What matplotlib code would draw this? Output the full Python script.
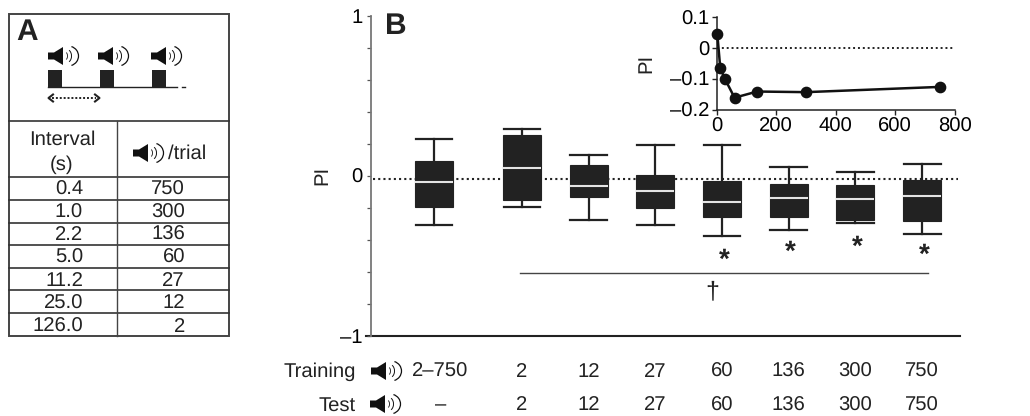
#!/usr/bin/env python3
import matplotlib
matplotlib.use("Agg")
import matplotlib.pyplot as plt
from matplotlib.patches import Arc, Polygon, Rectangle

plt.rcParams.update({"font.family": "Liberation Sans", "font.size": 14.6, "text.color": "#222222",
                     "text.hinting": "none"})

W, H = 1030, 416
DARK = "#222222"

# panel B boxes
train_labels = ["2–750", "2", "12", "27", "60", "136", "300", "750"]
test_labels = ["–", "2", "12", "27", "60", "136", "300", "750"]
whisker_hi = [0.226, 0.289, 0.128, 0.189, 0.192, 0.053, 0.020, 0.074]
box_hi = [0.090, 0.253, 0.066, 0.003, -0.034, -0.053, -0.059, -0.028]
medians = [-0.040, 0.045, -0.068, -0.099, -0.162, -0.143, -0.145, -0.127]
box_lo = [-0.195, -0.153, -0.135, -0.203, -0.259, -0.259, -0.278, -0.283]
whisker_lo = [-0.311, -0.199, -0.278, -0.308, -0.377, -0.341, -0.295, -0.366]
star_y = [-0.53, -0.48, -0.45, -0.50]

# inset
inset_tones = [2, 12, 27, 60, 136, 300, 750]
inset_pi = [0.046, -0.065, -0.099, -0.161, -0.141, -0.143, -0.126]

# panel A table
intervals = ["0.4", "1.0", "2.2", "5.0", "11.2", "25.0", "126.0"]
tones_per_trial = ["750", "300", "136", "60", "27", "12", "2"]


def px_axes(fig, x0, y0, x1, y1):
    return fig.add_axes([x0 / W, 1 - y1 / H, (x1 - x0) / W, (y1 - y0) / H])


def speaker(ax, x, y, s=1.0):
    # little loudspeaker glyph, x = left edge, y = centre
    pts = [(0, -3.5), (6, -3.5), (15, -9), (15, 9), (6, 3.5), (0, 3.5)]
    ax.add_patch(Polygon([(x + a * s, y + b * s) for a, b in pts], closed=True, fc="#111111", ec="none"))
    for off, w, h, lw in [(17, 5, 8, 0.6), (19, 9, 13, 0.7), (20, 21, 20, 0.9)]:
        ax.add_patch(Arc((x + off * s, y), w * s, h * s, theta1=-70, theta2=70, color="#111111", lw=lw))


fig = plt.figure(figsize=(W / 100, H / 100), dpi=100)

# overlay in pixel coordinates for the schematic, table and row labels
bg = fig.add_axes([0, 0, 1, 1])
bg.set_xlim(0, W); bg.set_ylim(H, 0); bg.axis("off")

bg.add_patch(Rectangle((9, 14), 220, 321.5, fc="none", ec="#444444", lw=1.4))
row_lines = [120.7, 177.3, 200, 222.7, 245, 267.7, 290.3, 313.3]
for y in row_lines:
    bg.plot([9, 229], [y, y], color="#333333", lw=1.2)
bg.plot([117, 117], [120.7, 335.5], color="#444444", lw=1.0)

bg.text(16, 32.5, "A", fontsize=21.5, fontweight="bold", va="center", ha="left")
for x in (48, 98, 151):
    speaker(bg, x, 56)
for x in (48, 100, 152):
    bg.add_patch(Rectangle((x, 70), 14, 17, fc=DARK, ec="none"))
bg.plot([48, 177], [87, 87], color=DARK, lw=1.0)
bg.plot([182, 185], [87, 87], color=DARK, lw=1.0)
bg.plot([52, 96], [98, 98], color=DARK, lw=1.4, ls=(0, (1, 1.0)))
bg.plot([53, 48.5, 53], [94.5, 98, 101.5], color=DARK, lw=1.5)
bg.plot([95, 99.5, 95], [94.5, 98, 101.5], color=DARK, lw=1.5)

bg.text(62, 145, "Interval", ha="center", va="baseline")
bg.text(62, 170, "(s)", ha="center", va="baseline")
speaker(bg, 133, 153)
bg.text(168, 159, "/trial", ha="left", va="baseline")
row_y = [195, 217.3, 240, 262.7, 285.7, 308.3, 331.7]
for y, a, b in zip(row_y, intervals, tones_per_trial):
    bg.text(83, y, a, ha="right", va="baseline")
    bg.text(185, y, b, ha="right", va="baseline")

# main box plot, x unit = one tone-count column
ax = px_axes(fig, 371, 15.5, 960, 335.7)
ax.patch.set_alpha(0)
positions = [-0.32, 1, 2, 3, 4, 5, 6, 7]
stats = [dict(whislo=a, q1=b, med=c, q3=d, whishi=e, fliers=[])
         for a, b, c, d, e in zip(whisker_lo, box_lo, medians, box_hi, whisker_hi)]
ax.axhline(-0.02, xmin=0.004, xmax=0.997, color=DARK, lw=1.5, ls=(0, (1, 1.5)), zorder=1)
ax.bxp(stats, positions=positions, widths=0.57, patch_artist=True, showfliers=False,
       boxprops=dict(facecolor=DARK, edgecolor=DARK, lw=0.8),
       medianprops=dict(color="#e4e4e4", lw=1.5, solid_capstyle="butt"),
       whiskerprops=dict(color=DARK, lw=1.6),
       capprops=dict(color=DARK, lw=1.6), capwidths=0.55, zorder=3)
ax.set_xlim(-1.264, 7.567); ax.set_ylim(-1, 1)
ax.set_xticks([])
ax.set_yticks([-1, 0, 1]); ax.set_yticklabels(["–1", "0", "1"])
ax.set_yticks([-0.8, -0.6, -0.4, -0.2, 0.2, 0.4, 0.6, 0.8], minor=True)
ax.tick_params(axis="y", which="both", length=3.2, width=0.9, color="#555555", pad=3)
for s in ("top", "right", "bottom"):
    ax.spines[s].set_visible(False)
ax.spines["left"].set_color("#777777"); ax.spines["left"].set_linewidth(1.3)
bg.plot([366, 960], [336, 336], color=DARK, lw=1.5)

for x, y in zip(positions[4:], star_y):
    ax.text(x + 0.03, y, "*", ha="center", va="center", fontsize=20, fontweight="bold")
ax.plot([0.97, 7.09], [-0.61, -0.61], color="#444444", lw=1.0)
ax.text(3.85, -0.725, "†", ha="center", va="center", fontsize=18)

fig.text(322 / W, 1 - 175 / H, "PI", rotation=90, ha="center", va="center")
bg.text(385, 26, "B", fontsize=21.5, fontweight="bold", ha="left", va="center")

# rows under the axis
bg.text(356, 377, "Training", ha="right", va="baseline")
bg.text(356, 410.5, "Test", ha="right", va="baseline")
speaker(bg, 371, 371)
speaker(bg, 370, 404)
for x, a, b in zip(positions, train_labels, test_labels):
    tx = x + 0.1 if a == "2–750" else x
    bg.text(522 + (tx - 1) * 66.7, 377, a, ha="center", va="baseline")
    bg.text(522 + (tx - 1) * 66.7, 410.5, b, ha="center", va="baseline")

# inset
ins = px_axes(fig, 716.7, 17.3, 954.7, 109.7)
ins.patch.set_alpha(0)
ins.axhline(0, color=DARK, lw=1.4, ls=(0, (1, 1.5)), zorder=1)
ins.plot(inset_tones, inset_pi, "o-", color="#111111", lw=1.8, ms=7.4, clip_on=False, zorder=3)
ins.set_xlim(0, 800); ins.set_ylim(-0.2, 0.1)
ins.set_xticks([0, 200, 400, 600, 800])
ins.set_yticks([-0.2, -0.1, 0, 0.1]); ins.set_yticklabels(["–0.2", "–0.1", "0", "0.1"])
ins.tick_params(length=3.5, width=1.0, color=DARK, pad=2)
for s in ("top", "right"):
    ins.spines[s].set_visible(False)
for s in ("left", "bottom"):
    ins.spines[s].set_color(DARK); ins.spines[s].set_linewidth(1.1)
fig.text(646 / W, 1 - 63 / H, "PI", rotation=90, ha="center", va="center")

fig.savefig("out.png", dpi=100)
